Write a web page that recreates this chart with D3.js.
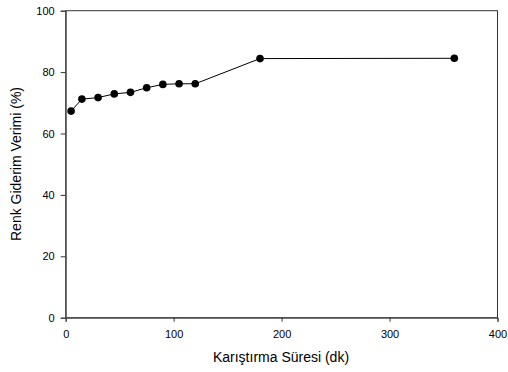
<!DOCTYPE html>
<html><head><meta charset="utf-8">
<script src="https://cdn.jsdelivr.net/npm/d3@7"></script>
<style>body{margin:0;background:#fff}svg{display:block}text{font-family:"Liberation Sans",Arial,sans-serif;fill:#000}</style>
</head><body><svg id="c" width="508" height="372"></svg>
<script>
const times = [5, 15, 30, 45, 60, 75, 90, 105, 120, 180, 360];
const removal = [67.3, 71.2, 71.7, 72.9, 73.4, 74.9, 76.0, 76.2, 76.2, 84.4, 84.5];
const xTicks = [0, 100, 200, 300, 400];
const yTicks = [0, 20, 40, 60, 80, 100];
const xLabel = "Karıştırma Süresi (dk)";
const yLabel = "Renk Giderim Verimi (%)";

const svg = d3.select("#c");
const L = 65.7, R = 497.5, T = 10.7, B = 317.7;
const x = d3.scaleLinear().domain([0, 400]).range([L, R]);
const y = d3.scaleLinear().domain([0, 100]).range([B, T]);

svg.append("rect").attr("x", L).attr("y", T).attr("width", R - L).attr("height", B - T)
  .attr("fill", "none").attr("stroke", "#333").attr("stroke-width", 1);

const xa = svg.append("g").attr("transform", `translate(0,${B})`)
  .call(d3.axisBottom(x).tickValues(xTicks).tickSize(4).tickPadding(9).tickFormat(d3.format("d")));
const ya = svg.append("g").attr("transform", `translate(${L},0)`)
  .call(d3.axisLeft(y).tickValues(yTicks).tickSize(5).tickPadding(6).tickFormat(d3.format("d")));
[xa, ya].forEach(a => {
  a.select(".domain").attr("stroke", "#444");
  a.selectAll(".tick line").attr("stroke", "#333");
  a.selectAll("text").attr("font-size", 11).attr("font-family", '"Liberation Sans",Arial,sans-serif').attr("fill", "#000");
});

const data = times.map((t, i) => [t, removal[i]]);
svg.append("path").datum(data)
  .attr("d", d3.line().x(d => x(d[0])).y(d => y(d[1])))
  .attr("fill", "none").attr("stroke", "#000").attr("stroke-width", 1);
svg.selectAll("circle.pt").data(data).enter().append("circle")
  .attr("cx", d => x(d[0])).attr("cy", d => y(d[1])).attr("r", 3.8).attr("fill", "#000");

svg.append("text").attr("x", 281).attr("y", 362).attr("text-anchor", "middle")
  .attr("font-size", 14).text(xLabel);
svg.append("text").attr("transform", `translate(21,164) rotate(-90)`)
  .attr("text-anchor", "middle").attr("font-size", 14).text(yLabel);
</script></body></html>
